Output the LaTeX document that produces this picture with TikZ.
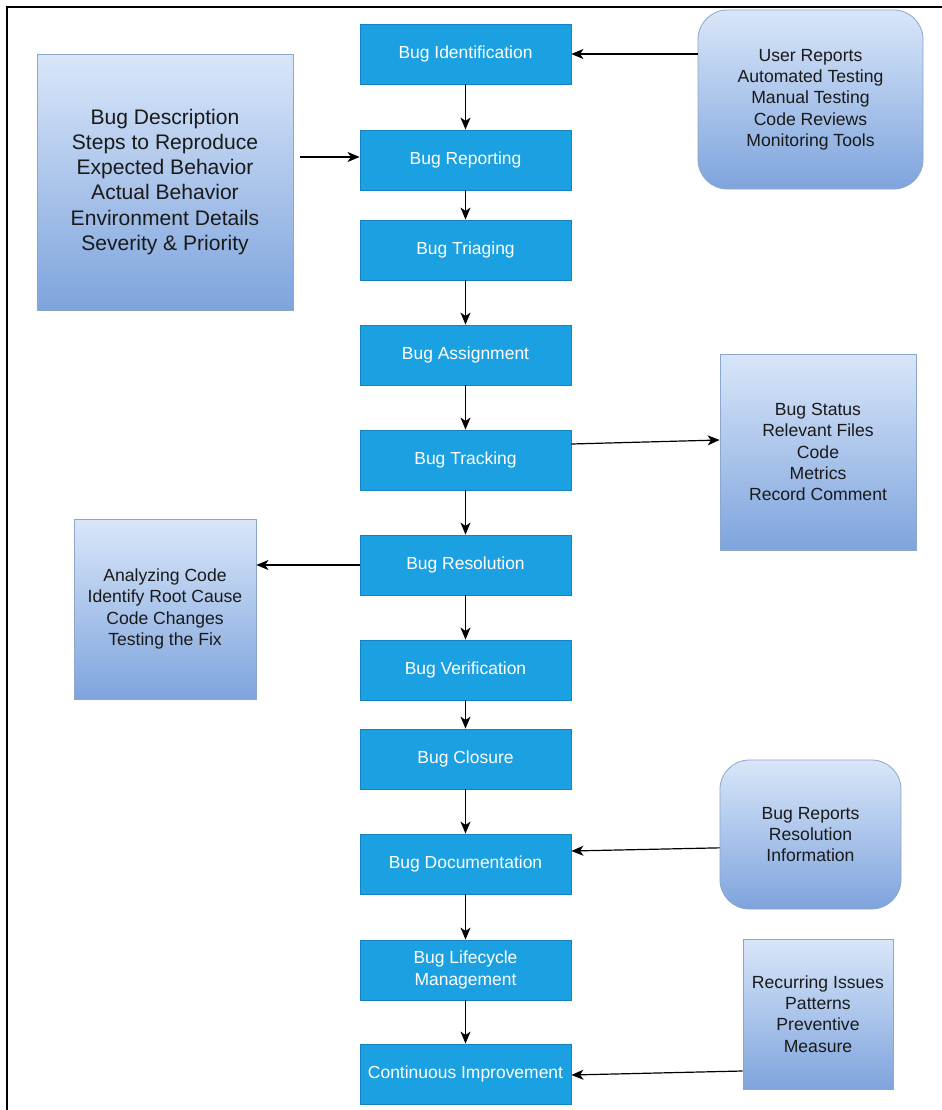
\documentclass[tikz,border=0pt]{standalone}
\usepackage{fontspec}
\setmainfont{Liberation Sans}
\usetikzlibrary{arrows.meta}
\definecolor{stepfill}{HTML}{1BA1E2}
\definecolor{stepline}{HTML}{1582C2}
\definecolor{infotop}{HTML}{D9E6F9}
\definecolor{infobot}{HTML}{7EA4DD}
\definecolor{infoline}{HTML}{8CA6CC}
\definecolor{infotext}{HTML}{1A1A1A}
\tikzset{
  stepbox/.style={draw=stepline, fill=stepfill, line width=0.6pt,
    minimum width=158.25pt, minimum height=45pt, inner sep=2pt,
    text=white, align=center, font=\fontsize{13.1}{17}\selectfont},
  infobox/.style={draw=infoline, line width=0.6pt, top color=infotop, bottom color=infobot,
    text=infotext, align=center, inner sep=2pt, font=\fontsize{13.2}{16}\selectfont},
  flow/.style={-{Stealth[length=9pt,width=7.5pt,inset=2.5pt]}, line width=0.9pt, black}
}
\begin{document}
\begin{tikzpicture}[x=0.75pt, y=-0.75pt]
  \useasboundingbox (0,0) rectangle (942,1110);
  \fill[white] (0,0) rectangle (942,1110);
  % frame lines along the top and left
  \draw[line width=1.1pt] (7,1110) -- (7,7) -- (942,7);

  % main process steps
  \node[stepbox] (ident)  at (465.5,54)   {Bug Identification};
  \node[stepbox] (report) at (465.5,160)  {Bug Reporting};
  \node[stepbox] (triage) at (465.5,250)  {Bug Triaging};
  \node[stepbox] (assign) at (465.5,355)  {Bug Assignment};
  \node[stepbox] (track)  at (465.5,460)  {Bug Tracking};
  \node[stepbox] (resol)  at (465.5,565)  {Bug Resolution};
  \node[stepbox] (verif)  at (465.5,670)  {Bug Verification};
  \node[stepbox] (closure) at (465.5,759) {Bug Closure};
  \node[stepbox] (docu)   at (465.5,864)  {Bug Documentation};
  \node[stepbox] (life)   at (465.5,970)  {Bug Lifecycle\\Management};
  \node[stepbox] (improve) at (465.5,1074) {Continuous Improvement};

  % side information boxes
  \node[infobox, minimum width=192pt, minimum height=192pt,
        font=\fontsize{15.8}{18.8}\selectfont] (desc) at (165,182)
    {Bug Description\\Steps to Reproduce\\Expected Behavior\\Actual Behavior\\Environment Details\\Severity \& Priority};
  \node[infobox, rounded corners=22pt, minimum width=168.75pt, minimum height=134.25pt] (sources) at (810.5,99.5)
    {User Reports\\Automated Testing\\Manual Testing\\Code Reviews\\Monitoring Tools};
  \node[infobox, minimum width=147pt, minimum height=147pt] (status) at (818,452)
    {Bug Status\\Relevant Files\\Code\\Metrics\\Record Comment};
  \node[infobox, minimum width=136.5pt, minimum height=135pt] (fix) at (165,609)
    {Analyzing Code\\Identify Root Cause\\Code Changes\\Testing the Fix};
  \node[infobox, rounded corners=22pt, minimum width=135.75pt, minimum height=111.75pt] (records) at (810.5,834.5)
    {Bug Reports\\Resolution\\Information};
  \node[infobox, minimum width=112.5pt, minimum height=112.5pt] (trends) at (818,1014)
    {Recurring Issues\\Patterns\\Preventive\\Measure};

  % flow between steps
  \draw[flow] (ident) -- (report);
  \draw[flow] (report) -- (triage);
  \draw[flow] (triage) -- (assign);
  \draw[flow] (assign) -- (track);
  \draw[flow] (track) -- (resol);
  \draw[flow] (resol) -- (verif);
  \draw[flow] (verif) -- (closure);
  \draw[flow] (closure) -- (docu);
  \draw[flow] (docu) -- (life);
  \draw[flow] (life) -- (improve);

  % connectors to and from the side boxes
  \coordinate (descout) at (300,157);
  \draw[flow] (descout) -- (descout -| report.west);
  \draw[flow] (ident.east -| sources.west) -- (ident.east);
  \draw[flow] ([yshift=12pt]track.east) -- ([yshift=9pt]status.west);
  \draw[flow] (resol.west) -- (resol.west -| fix.east);
  \draw[flow] ([yshift=-10pt]records.west) -- ([yshift=9.75pt]docu.east);
  \draw[flow] ([yshift=-42.75pt]trends.west) -- ([yshift=-0.75pt]improve.east);
\end{tikzpicture}
\end{document}
